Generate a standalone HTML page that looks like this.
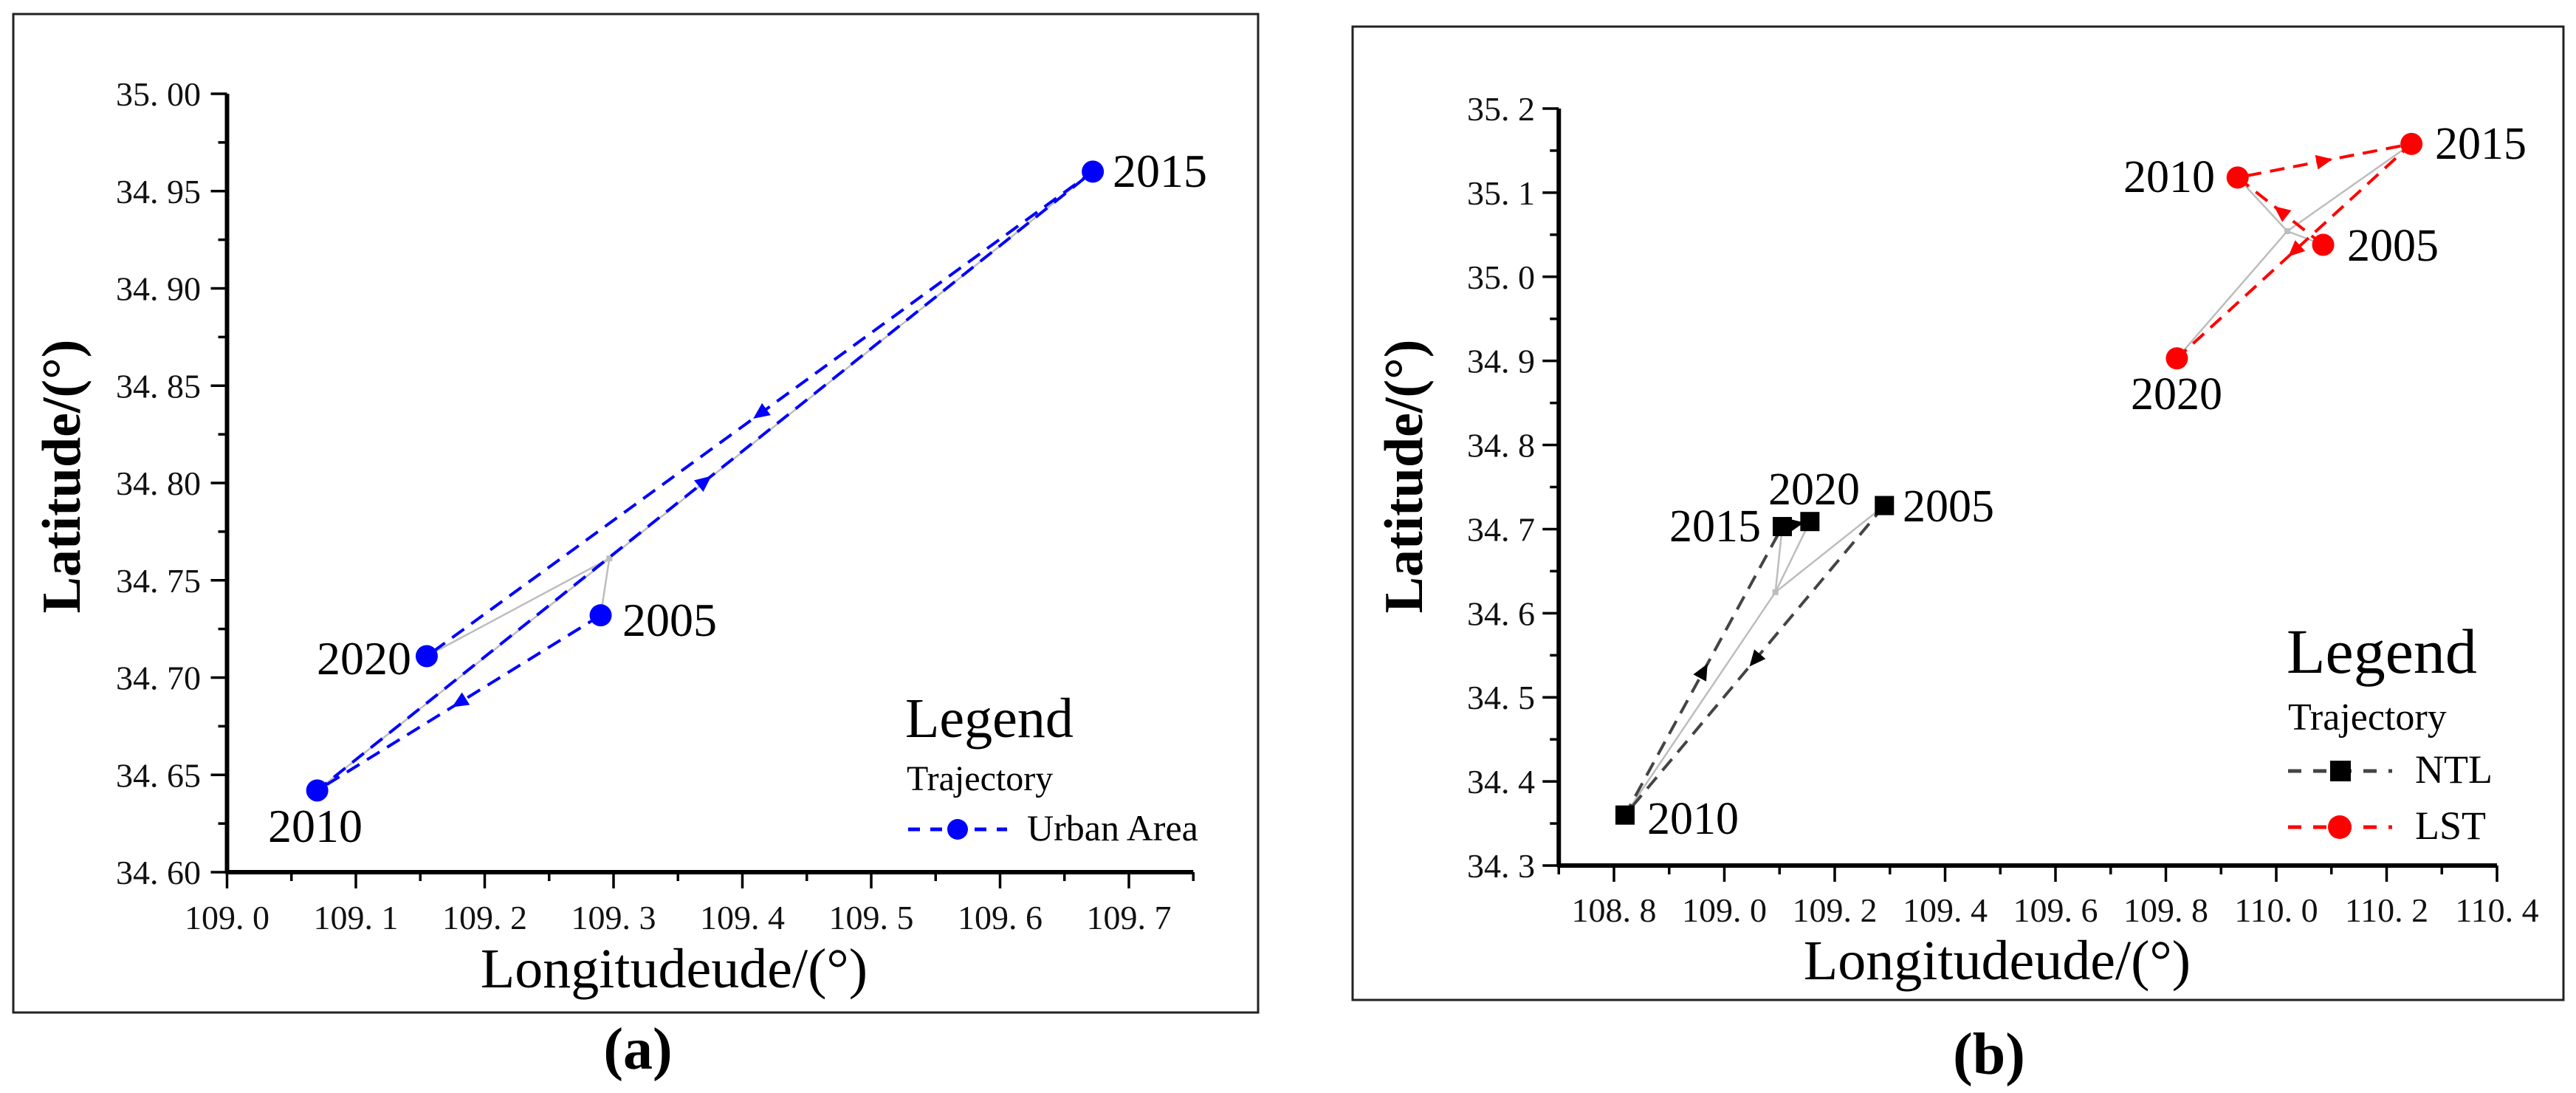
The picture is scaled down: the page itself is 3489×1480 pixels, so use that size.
<!DOCTYPE html>
<html><head><meta charset="utf-8"><style>
html,body{margin:0;padding:0;background:#fff;}
svg{display:block;}
svg text{font-family:"Liberation Serif","Times New Roman","Noto Serif CJK SC","DejaVu Serif",serif;}
</style></head><body>
<svg id="fig" width="3489" height="1480" viewBox="0 0 3489 1480" xmlns="http://www.w3.org/2000/svg">
<rect x="18" y="19" width="1686" height="1352" fill="none" stroke="#222" stroke-width="3"/>
<rect x="1832" y="36" width="1640" height="1318" fill="none" stroke="#222" stroke-width="3"/>
<g id="pa"></g>
<g id="pb"></g>
</svg>
<script>
// Panel A data
const aYears = ['2005','2010','2015','2020'];
const aLon = [109.29, 109.07, 109.672, 109.155];
const aLat = [34.732, 34.642, 34.96, 34.711];
const aXTicks = [109.0,109.1,109.2,109.3,109.4,109.5,109.6,109.7];
const aXTickLabels = ['109. 0','109. 1','109. 2','109. 3','109. 4','109. 5','109. 6','109. 7'];
const aYTicks = [34.60,34.65,34.70,34.75,34.80,34.85,34.90,34.95,35.00];
const aYTickLabels = ['34. 60','34. 65','34. 70','34. 75','34. 80','34. 85','34. 90','34. 95','35. 00'];
// Panel B data
const bYears = ['2005','2010','2015','2020'];
const ntlLon = [109.29, 108.82, 109.105, 109.155];
const ntlLat = [34.728, 34.36, 34.703, 34.709];
const lstLon = [110.085, 109.93, 110.245, 109.82];
const lstLat = [35.038, 35.118, 35.158, 34.903];
const bXTicks = [108.8,109.0,109.2,109.4,109.6,109.8,110.0,110.2,110.4];
const bXTickLabels = ['108. 8','109. 0','109. 2','109. 4','109. 6','109. 8','110. 0','110. 2','110. 4'];
const bYTicks = [34.3,34.4,34.5,34.6,34.7,34.8,34.9,35.0,35.1,35.2];
const bYTickLabels = ['34. 3','34. 4','34. 5','34. 6','34. 7','34. 8','34. 9','35. 0','35. 1','35. 2'];

const NS='http://www.w3.org/2000/svg';
function mk(parent, tag, attrs, text){
  const e=document.createElementNS(NS,tag);
  for(const k in attrs) e.setAttribute(k,attrs[k]);
  if(text!==undefined){ e.textContent=text; }
  parent.appendChild(e); return e;
}
function lin(d0,d1,r0,r1){return v=>r0+(v-d0)*(r1-r0)/(d1-d0);}

function axes(g, X, Y, x0, x1, y0, y1, xt, xtl, yt, ytl, xMinor, yMinor, yLblX, xLblY, fs){
  const ax=mk(g,'line',{x1:X(x0)-2,y1:Y(y0),x2:X(x1),y2:Y(y0),stroke:'#000','stroke-width':6});
   
  const ay=mk(g,'line',{x1:X(x0),y1:Y(y0)+2,x2:X(x0),y2:Y(y1),stroke:'#000','stroke-width':6});
   
  xMinor.forEach(v=>{mk(g,'line',{x1:X(v),y1:Y(y0),x2:X(v),y2:Y(y0)+12,stroke:'#000','stroke-width':3.5});});
  yMinor.forEach(v=>{mk(g,'line',{x1:X(x0),y1:Y(v),x2:X(x0)-12,y2:Y(v),stroke:'#000','stroke-width':3.5});});
  xt.forEach((v,i)=>{
    mk(g,'line',{x1:X(v),y1:Y(y0),x2:X(v),y2:Y(y0)+22,stroke:'#000','stroke-width':3.5});
    const t=mk(g,'text',{x:X(v),y:xLblY,'text-anchor':'middle','font-size':fs,fill:'#111'},xtl[i]);
     
  });
  yt.forEach((v,i)=>{
    mk(g,'line',{x1:X(x0),y1:Y(v),x2:X(x0)-22,y2:Y(v),stroke:'#000','stroke-width':3.5});
    const t=mk(g,'text',{x:yLblX,y:Y(v)+16,'text-anchor':'end','font-size':fs,fill:'#111'},ytl[i]);
     
  });
}

function trajectory(g, X, Y, lon, lat, color, lineColor, shape, name){
  const n=lon.length;
  const cx=lon.reduce((a,b)=>a+b,0)/n, cy=lat.reduce((a,b)=>a+b,0)/n;
  for(let i=0;i<n;i++){
    const l=mk(g,'line',{x1:X(cx),y1:Y(cy),x2:X(lon[i]),y2:Y(lat[i]),stroke:'#bdbdbd','stroke-width':2.5});
     
  }
  mk(g,'rect',{x:X(cx)-4,y:Y(cy)-4,width:8,height:8,fill:'#bdbdbd'});
  let d='';
  for(let i=0;i<n;i++) d+=(i?'L':'M')+X(lon[i])+','+Y(lat[i]);
  const p=mk(g,'path',{d:d,fill:'none',stroke:lineColor,'stroke-width':4,'stroke-dasharray':'20,12'});
   
  for(let i=0;i<n-1;i++){
    const x1=X(lon[i]),y1=Y(lat[i]),x2=X(lon[i+1]),y2=Y(lat[i+1]);
    const mx=(x1+x2)/2,my=(y1+y2)/2,a=Math.atan2(y2-y1,x2-x1)*180/Math.PI;
    const ar=mk(g,'path',{d:'M11,0 L-11,-10 L-11,10 z',fill:color,transform:`translate(${mx},${my}) rotate(${a})`});
     
  }
  for(let i=0;i<n;i++){
    let m;
    if(shape==='circle') m=mk(g,'circle',{cx:X(lon[i]),cy:Y(lat[i]),r:15,fill:color});
    else m=mk(g,'rect',{x:X(lon[i])-13,y:Y(lat[i])-13,width:26,height:26,fill:color});
     
  }
}
function label(g,x,y,txt,anchor,fs,name){
  const t=mk(g,'text',{x:x,y:y,'text-anchor':anchor,'font-size':fs,fill:'#000'},txt);
   
  return t;
}

// ---- Panel A ----
const ga=document.getElementById('pa');
const XA=lin(109.0,109.1,307.5,482), YA=lin(34.60,35.00,1181,127);
const aXm=[],aYm=[];
for(let i=0;i<15;i++) aXm.push(109.05+i*0.1);
for(let i=0;i<8;i++) aYm.push(34.625+i*0.05);
axes(ga,XA,YA,109.0,109.75,34.60,35.00,aXTicks,aXTickLabels,aYTicks,aYTickLabels,aXm.filter(v=>v<109.76),aYm,272,1258,46);
trajectory(ga,XA,YA,aLon,aLat,'#0000ff','#0000ff','circle','urban-area');
const aLblPos=[[843,861,'start'],[363,1140,'start'],[1507,253,'start'],[557,913,'end']];
aYears.forEach((y,i)=>label(ga,aLblPos[i][0],aLblPos[i][1],y,aLblPos[i][2],64,'year-label-'+y));
label(ga,913,1337,'Longitudeude/(°)','middle',76,'x-axis-title');
const ta=label(ga,0,0,'Latitude/(°)','middle',74,'y-axis-title');
ta.setAttribute('transform','translate(108,645) rotate(-90)'); ta.setAttribute('font-weight','bold');
label(ga,1226,998,'Legend','start',76,'legend-title');
label(ga,1228,1070,'Trajectory','start',48,'legend-subtitle');
mk(ga,'line',{x1:1230,y1:1123,x2:1364,y2:1123,stroke:'#0000ff','stroke-width':5,'stroke-dasharray':'16,14'});
mk(ga,'circle',{cx:1297,cy:1123,r:14,fill:'#0000ff'});
label(ga,1391,1138,'Urban Area','start',50,'legend-entry-urban-area');
const pa=label(ga,864,1447,'(a)','middle',80,'panel-a-caption');
pa.setAttribute('font-weight','bold');

// ---- Panel B ----
const gb=document.getElementById('pb');
const XB=lin(108.8,110.4,2186,3382), YB=lin(34.3,35.2,1172,147);
const bXm=[],bYm=[];
for(let i=0;i<8;i++) bXm.push(108.9+i*0.2);
for(let i=0;i<9;i++) bYm.push(34.35+i*0.1);
axes(gb,XB,YB,108.7,110.4,34.3,35.2,bXTicks,bXTickLabels,bYTicks,bYTickLabels,[108.7].concat(bXm),bYm,2079,1248,46);
trajectory(gb,XB,YB,ntlLon,ntlLat,'#000000','#444444','square','ntl');
trajectory(gb,XB,YB,lstLon,lstLat,'#ff0000','#ff0000','circle','lst');
const ntlPos=[[2577,706,'start'],[2231,1129,'start'],[2385,733,'end'],[2457,683,'middle']];
const lstPos=[[3179,353,'start'],[3000,260,'end'],[3298,215,'start'],[2948,554,'middle']];
bYears.forEach((y,i)=>label(gb,ntlPos[i][0],ntlPos[i][1],y,ntlPos[i][2],62,'ntl-year-label-'+y));
bYears.forEach((y,i)=>label(gb,lstPos[i][0],lstPos[i][1],y,lstPos[i][2],62,'lst-year-label-'+y));
label(gb,2705,1326,'Longitudeude/(°)','middle',76,'x-axis-title');
const tb=label(gb,0,0,'Latitude/(°)','middle',74,'y-axis-title');
tb.setAttribute('transform','translate(1926,645) rotate(-90)'); tb.setAttribute('font-weight','bold');
label(gb,3097,911,'Legend','start',86,'legend-title');
label(gb,3099,988,'Trajectory','start',52,'legend-subtitle');
mk(gb,'line',{x1:3099,y1:1044,x2:3240,y2:1044,stroke:'#444','stroke-width':5,'stroke-dasharray':'18,16'});
mk(gb,'rect',{x:3156,y:1030,width:28,height:28,fill:'#000'});
label(gb,3271,1060,'NTL','start',54,'legend-entry-ntl');
mk(gb,'line',{x1:3099,y1:1120,x2:3240,y2:1120,stroke:'#ff0000','stroke-width':5,'stroke-dasharray':'18,16'});
mk(gb,'circle',{cx:3169,cy:1120,r:16,fill:'#ff0000'});
label(gb,3271,1136,'LST','start',54,'legend-entry-lst');
const pb=label(gb,2694,1454,'(b)','middle',80,'panel-b-caption');
pb.setAttribute('font-weight','bold');
</script>
</body></html>
